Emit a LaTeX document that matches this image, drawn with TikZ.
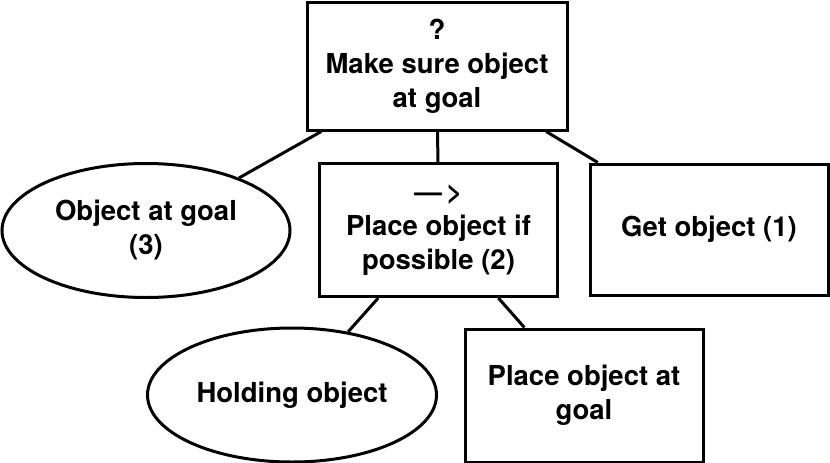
\documentclass[tikz,border=0pt]{standalone}
\usepackage{fontspec}
\setmainfont{TeX Gyre Heros}
\usetikzlibrary{shapes.geometric}

\begin{document}
\begin{tikzpicture}[x=1pt,y=-1pt,line width=3pt,
    every node/.style={align=center,inner sep=0pt,
      font=\fontsize{27.5}{34}\selectfont\bfseries},
    task/.style={draw,rectangle,minimum width=238pt,minimum height=133pt},
    cond/.style={draw,ellipse,minimum width=289pt,minimum height=134pt}]
    \useasboundingbox (0,0) rectangle (830,463);
    \node[task,minimum width=260pt,minimum height=128pt] (root) at (437, 66) {?\\Make sure object\\at goal};
    \node[cond,minimum width=288pt] (atgoal) at (146,230.5) {Object at goal\\(3)};
    \node[task] (place) at (438.5,230) {—\,>\\Place object if\\possible (2)};
    \node[task,minimum height=131pt] (get) at (709,229.5) {Get object (1)};
    \node[cond] (holding) at (292,395) {Holding object};
    \node[task] (putdown) at (584,395.5) {Place object at\\goal};
    \draw (root) edge (atgoal);
    \draw (root) edge (place);
    \draw (root) edge (get);
    \draw (place) edge (holding);
    \draw (place) edge (putdown);
  \end{tikzpicture}
\end{document}
